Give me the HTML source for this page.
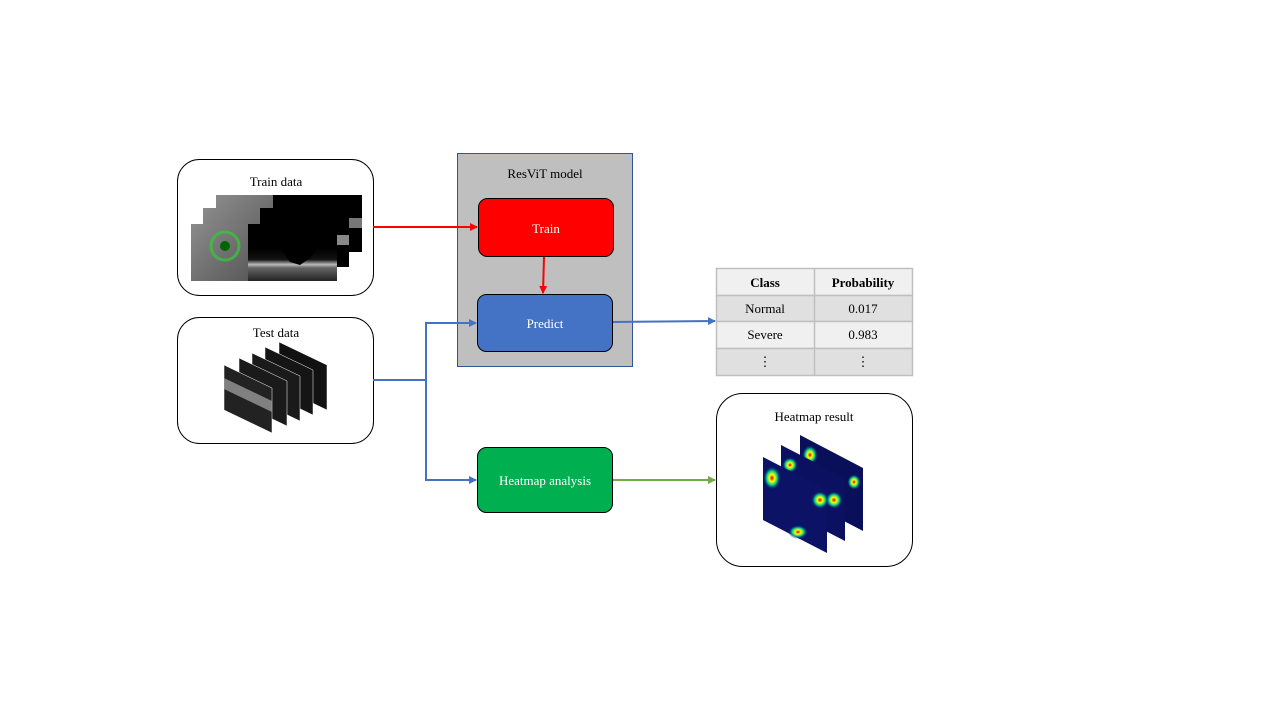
<!DOCTYPE html>
<html><head><meta charset="utf-8"><style>
html,body{margin:0;padding:0;background:#fff;}
svg{display:block;font-family:"Liberation Serif",serif;}
</style></head><body>
<svg width="1280" height="720" viewBox="0 0 1280 720" xmlns="http://www.w3.org/2000/svg">
<defs>
<marker id="ar" markerWidth="8" markerHeight="8" refX="7" refY="4" orient="auto" markerUnits="userSpaceOnUse"><path d="M0,0 L8,4 L0,8 z" fill="#ff0000"/></marker>
<marker id="ab" markerWidth="8" markerHeight="8" refX="7" refY="4" orient="auto" markerUnits="userSpaceOnUse"><path d="M0,0 L8,4 L0,8 z" fill="#4472c4"/></marker>
<marker id="ag" markerWidth="8" markerHeight="8" refX="7" refY="4" orient="auto" markerUnits="userSpaceOnUse"><path d="M0,0 L8,4 L0,8 z" fill="#70ad47"/></marker>
<linearGradient id="oct" x1="0" y1="0" x2="0" y2="1">
<stop offset="0" stop-color="#000"/><stop offset="0.35" stop-color="#111"/><stop offset="0.5" stop-color="#bbb"/><stop offset="0.6" stop-color="#666"/><stop offset="1" stop-color="#222"/></linearGradient>
<linearGradient id="fund" x1="0" y1="0" x2="1" y2="1"><stop offset="0" stop-color="#8a8a8a"/><stop offset="1" stop-color="#5a5a5a"/></linearGradient>
<radialGradient id="hot"><stop offset="0" stop-color="#c00"/><stop offset="0.3" stop-color="#ff0"/><stop offset="0.6" stop-color="#0c8"/><stop offset="1" stop-color="#000080" stop-opacity="0"/></radialGradient>
</defs>

<!-- Train data box -->
<rect x="177.5" y="159.5" width="196" height="136" rx="22" fill="#fff" stroke="#000"/>
<text x="276" y="186" font-size="13" text-anchor="middle">Train data</text>
<g>
<rect x="216" y="195" width="146" height="57" fill="#000"/><rect x="216" y="195" width="57" height="57" fill="url(#fund)"/>
<rect x="338" y="218" width="24" height="10" fill="#777"/>
<rect x="203" y="208" width="146" height="59" fill="#000"/><rect x="203" y="208" width="57" height="59" fill="url(#fund)"/>
<rect x="327" y="235" width="22" height="10" fill="#888"/>
<rect x="191" y="224" width="146" height="57" fill="#000"/><rect x="191" y="224" width="57" height="57" fill="url(#fund)"/>
<circle cx="225" cy="246" r="14" fill="none" stroke="#3c3" stroke-width="3" opacity="0.7"/>
<circle cx="225" cy="246" r="5" fill="#060"/>
<path d="M248,248 L280,248 L290,262 L300,265 L310,258 L318,248 L337,248 L337,281 L248,281 z" fill="url(#oct)"/>
</g>

<!-- Test data box -->
<rect x="177.5" y="317.5" width="196" height="126" rx="22" fill="#fff" stroke="#000"/>
<text x="276" y="337" font-size="13" text-anchor="middle">Test data</text>
<g stroke="#fff" stroke-width="0.5">
<polygon points="279,342 327,365 327,410 279,387" fill="#111"/>
<polygon points="265,347 313,370 313,415 265,392" fill="#151515"/>
<polygon points="252,353 300,376 300,421 252,398" fill="#1a1a1a"/>
<polygon points="239,358 287,381 287,426 239,403" fill="#1a1a1a"/>
<polygon points="224,365 272,388 272,433 224,410" fill="#222"/>
<polygon points="224,378 272,401 272,412 224,389" fill="#999" stroke="none" opacity="0.8"/>
</g>

<!-- ResViT model -->
<rect x="457.5" y="153.5" width="175" height="213" fill="#bfbfbf" stroke="#2f5597"/>
<text x="545" y="178" font-size="13" text-anchor="middle">ResViT model</text>
<rect x="478.5" y="198.5" width="135" height="58" rx="9" fill="#ff0000" stroke="#000"/>
<text x="546" y="233" font-size="13" fill="#fff" text-anchor="middle">Train</text>
<rect x="477.5" y="294.5" width="135" height="57" rx="9" fill="#4472c4" stroke="#000"/>
<text x="545" y="328" font-size="13" fill="#fff" text-anchor="middle">Predict</text>
<rect x="477.5" y="447.5" width="135" height="65" rx="9" fill="#00b050" stroke="#000"/>
<text x="545" y="485" font-size="13" fill="#fff" text-anchor="middle">Heatmap analysis</text>

<!-- connectors -->
<line x1="373" y1="227" x2="477" y2="227" stroke="#ff0000" stroke-width="2" marker-end="url(#ar)"/>
<line x1="544" y1="257" x2="543" y2="293" stroke="#ff0000" stroke-width="2" marker-end="url(#ar)"/>
<polyline points="373,380 426,380 426,323 476,323" fill="none" stroke="#4472c4" stroke-width="2" marker-end="url(#ab)"/>
<polyline points="426,380 426,480 476,480" fill="none" stroke="#4472c4" stroke-width="2" marker-end="url(#ab)"/>
<line x1="613" y1="322" x2="715" y2="321" stroke="#4472c4" stroke-width="2" marker-end="url(#ab)"/>
<line x1="613" y1="480" x2="715" y2="480" stroke="#70ad47" stroke-width="2" marker-end="url(#ag)"/>

<!-- table -->
<g stroke="#bfbfbf" stroke-width="1.5">
<rect x="716.5" y="268.5" width="196" height="27" fill="#f0f0f0"/>
<rect x="716.5" y="295.5" width="196" height="26" fill="#e0e0e0"/>
<rect x="716.5" y="321.5" width="196" height="27" fill="#f0f0f0"/>
<rect x="716.5" y="348.5" width="196" height="27" fill="#e0e0e0"/>
<line x1="814.5" y1="268" x2="814.5" y2="375"/>
</g>
<g font-size="13" text-anchor="middle">
<text x="765" y="287" font-weight="bold">Class</text>
<text x="863" y="287" font-weight="bold">Probability</text>
<text x="765" y="313">Normal</text><text x="863" y="313">0.017</text>
<text x="765" y="339">Severe</text><text x="863" y="339">0.983</text>
<text x="765" y="366">⋮</text><text x="863" y="366">⋮</text>
</g>

<!-- Heatmap result -->
<rect x="716.5" y="393.5" width="196" height="173" rx="26" fill="#fff" stroke="#000"/>
<text x="814" y="421" font-size="13" text-anchor="middle">Heatmap result</text>
<g>
<polygon points="800,435 863,468 863,531 800,498" fill="#0a0f5a"/>
<ellipse cx="810" cy="455" rx="8" ry="10" fill="url(#hot)"/>
<ellipse cx="854" cy="482" rx="7" ry="8" fill="url(#hot)"/>
<polygon points="781,445 845,478 845,541 781,508" fill="#0b1060"/>
<ellipse cx="790" cy="465" rx="8" ry="8" fill="url(#hot)"/>
<ellipse cx="834" cy="500" rx="9" ry="9" fill="url(#hot)"/>
<polygon points="763,457 827,490 827,553 763,520" fill="#0c1266"/>
<ellipse cx="772" cy="478" rx="9" ry="12" fill="url(#hot)"/>
<ellipse cx="820" cy="500" rx="9" ry="9" fill="url(#hot)"/>
<ellipse cx="798" cy="532" rx="10" ry="7" fill="url(#hot)"/>
</g>
</svg>
</body></html>
